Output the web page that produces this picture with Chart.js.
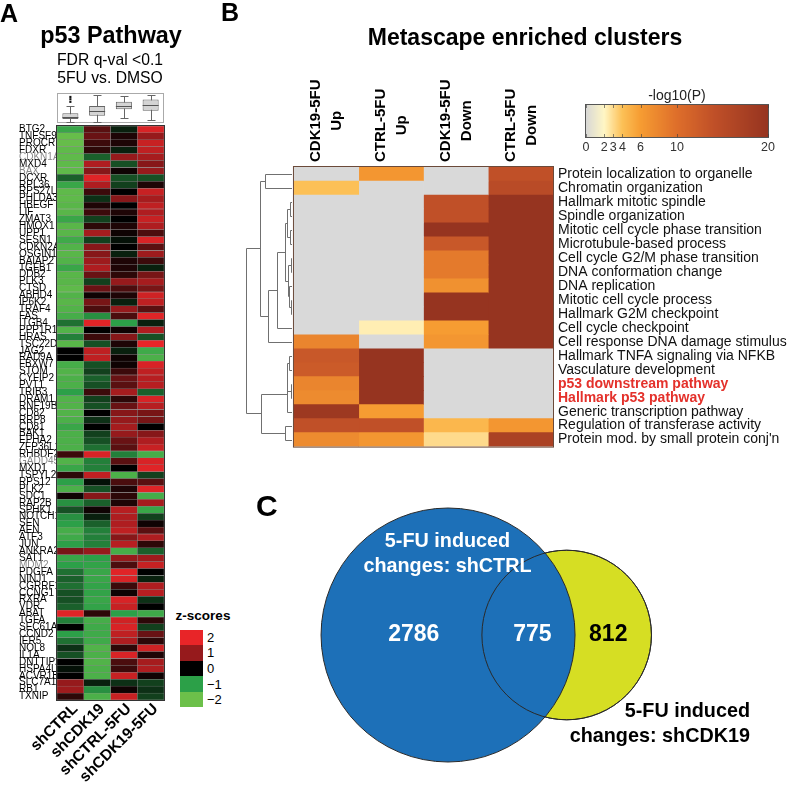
<!DOCTYPE html>
<html>
<head>
<meta charset="utf-8">
<script src="https://cdn.jsdelivr.net/npm/chart.js@4.4.1/dist/chart.umd.min.js"></script>
<style>
body{margin:0;background:#fff;width:800px;height:787px;position:relative;overflow:hidden;font-family:"Liberation Sans",Arial,sans-serif;}
canvas{position:absolute;}
.t{position:absolute;white-space:nowrap;color:#000;line-height:1;}
.sw{position:absolute;left:180px;width:23px;}
.lab{position:absolute;left:207px;font-size:13px;line-height:15px;}
</style>
</head>
<body>
<canvas id="heatA" width="170" height="787" style="left:0;top:0"></canvas>
<canvas id="boxA" width="107" height="30" style="left:57px;top:93px"></canvas>
<canvas id="heatB" width="600" height="460" style="left:200px;top:0"></canvas>
<canvas id="venn" width="550" height="307" style="left:250px;top:480px"></canvas>

<div class="t" style="left:0;top:1px;font-weight:bold;font-size:25px">A</div>
<div class="t" style="left:111px;top:24px;transform:translateX(-50%);font-weight:bold;font-size:23.4px">p53 Pathway</div>
<div class="t" style="left:110px;top:51.5px;transform:translateX(-50%);font-size:15.7px">FDR q-val &lt;0.1</div>
<div class="t" style="left:110px;top:69.6px;transform:translateX(-50%);font-size:15.7px">5FU vs. DMSO</div>

<div class="t" style="left:203px;top:609px;transform:translateX(-50%);font-weight:bold;font-size:13.5px">z-scores</div>
<div id="zlegend"></div>

<div class="t" style="left:221px;top:0;font-weight:bold;font-size:25px">B</div>
<div class="t" style="left:525px;top:25.5px;transform:translateX(-50%);font-weight:bold;font-size:23px">Metascape enriched clusters</div>
<div class="t" style="left:677px;top:88px;transform:translateX(-50%);font-size:14px;color:#222">-log10(P)</div>

<div class="t" style="left:256px;top:491px;font-weight:bold;font-size:30px">C</div>
<div class="t" style="left:447.5px;top:527.7px;transform:translateX(-50%);text-align:center;font-weight:bold;font-size:19.8px;line-height:25px;color:#fff">5-FU induced<br>changes: shCTRL</div>
<div class="t" style="right:50px;top:697.7px;text-align:right;font-weight:bold;font-size:19.8px;line-height:25px">5-FU induced<br>changes: shCDK19</div>

<script>
Chart.defaults.font.family = '"Liberation Sans", Arial, sans-serif';
Chart.defaults.animation = false;
Chart.defaults.plugins.legend.display = false;
Chart.defaults.plugins.tooltip.enabled = false;

// ---- panel A data ----
var colNamesA = ["shCTRL", "shCDK19", "shCTRL-5FU", "shCDK19-5FU"];

var genes = ["BTG2","TNFSF9","PROCR","FDXR","CDKN1A","MXD4","BAX","DCXR","RPL36","RPS27L",
  "PHLDA3","HBEGF","LIF","ZMAT3","HMOX1","UPP1","SESN1","CDKN2A","OSGIN1","BAIAP2",
  "TGFB1","DDB2","PLK3","CTSD","ABHD4","IP6K2","TRAF4","FAS","ITGB4","PPP1R15A",
  "HRAS","TSC22D1","JAG2","RAD9A","FBXW7","STOM","CYFIP2","PVT1","TRIB3","DRAM1",
  "RNF19B","CD82","RRP8","CD81","BAK1","EPHA2","ZFP36L1","RHBDF2","GADD45A","MXD1",
  "TSPYL2","RPS12","PLK2","SDC1","RAP2B","SPHK1","NOTCH1","SEN","AEN","ATF3",
  "JUN","ANKRA2","SAT1","MDM2","PDGFA","NINJ1","CGRRF1","CCNG1","RXRA","VDR",
  "ABAT","TGFA","SEC61A1","CCND2","IER5","NOL8","IL1A","DNTTIP2","HSPA4L","ACVR1B",
  "SLC7A11","RB1","TXNIP"];

var greyGenes = ["CDKN1A", "BAX", "GADD45A", "MDM2"];

var zShCTRL = [-1.2,-1.9,-1.9,-1.8,-1.8,-1.8,-1.8,-0.6,-1.2,-1.8,
  -1.8,-1.7,-1.7,-1.2,-1.7,-1.7,-1.3,-1.6,-1.7,-1.6,
  -1.2,-1.7,-1.7,-1.8,-1.6,-1.7,-1.6,-1.4,-0.7,-1.6,
  -0.8,-1.7,0.0,0.0,-1.4,-1.6,-1.5,-1.5,-1.0,-1.6,
  -1.6,-1.6,-1.5,-1.2,-1.5,-1.5,-1.5,0.4,-1.6,-1.2,
  0.3,-1.0,-1.5,0.1,-0.9,-0.5,-0.9,-1.0,-1.4,-1.3,
  -1.0,0.8,-1.2,-1.0,-0.7,-0.6,-0.7,-0.5,-0.5,-0.6,
  1.9,-0.8,0.0,-1.0,-0.7,-0.3,-0.5,0.0,-0.1,0.0,
  1.0,1.1,0.3];
var zShCDK19 = [0.6,0.7,0.4,0.3,-0.6,1.3,0.9,1.9,1.3,0.4,
  -0.3,0.2,0.4,-0.4,0.3,1.2,-0.4,0.9,0.9,1.1,
  1.3,0.7,-0.4,0.7,0.1,0.8,0.5,-0.9,1.9,0.0,
  0.4,-0.5,1.5,1.5,-0.5,-0.4,-0.6,-0.5,0.4,-0.4,
  -0.5,0.0,-0.3,0.0,-0.4,-0.5,-0.7,1.8,-0.8,-0.8,
  1.5,-0.1,-0.5,0.9,-0.6,0.1,-0.2,-0.6,-0.8,-0.8,
  -0.8,1.0,-1.0,-1.1,-1.2,-1.2,-1.1,-1.1,-1.2,-1.1,
  0.3,-1.4,-1.3,-1.3,-1.3,-1.6,-1.5,-1.6,-1.5,-1.5,
  -0.2,-0.9,-1.5];
var zShCTRL5FU = [-0.2,0.2,0.2,-0.2,1.0,-0.5,0.1,-0.5,-0.4,0.0,
  0.9,0.0,0.2,0.0,0.2,0.1,-0.1,0.0,-0.2,0.2,
  0.2,0.3,1.0,0.5,0.2,-0.2,1.0,0.5,-1.0,0.1,
  0.9,0.2,-0.2,0.1,0.1,0.4,0.7,0.6,1.2,0.3,
  0.7,0.9,1.0,1.2,1.0,0.7,0.6,-0.8,0.6,0.0,
  -1.5,0.5,0.2,0.3,0.2,1.4,1.3,1.3,1.5,0.9,
  1.4,-1.4,1.0,0.5,1.9,1.8,0.4,0.1,1.8,1.6,
  -1.0,1.7,1.8,1.5,1.3,0.3,1.8,0.5,0.4,1.6,
  -0.3,0.1,1.6];
var zShCDK195FU = [1.8,1.0,1.6,1.5,1.2,0.9,1.0,-0.5,0.2,1.6,
  1.2,1.5,1.3,1.6,1.3,0.5,1.8,0.6,1.1,0.4,
  -0.2,0.8,1.2,0.8,1.7,1.5,0.6,1.9,-0.2,1.3,
  -0.5,2.0,-1.3,-1.5,1.8,1.5,1.4,1.4,-0.6,1.8,
  1.4,0.8,0.8,0.0,0.9,1.3,1.6,-1.4,1.8,1.9,
  -0.4,0.6,1.9,-1.4,1.2,-1.2,-0.4,0.1,0.6,1.3,
  0.3,-0.6,1.1,1.6,0.0,-0.2,1.3,1.4,-0.3,0.0,
  -1.3,0.3,-0.4,0.7,0.3,1.7,0.2,1.2,1.3,0.1,
  -0.4,-0.3,-0.4];

// box plot summary per column (z-score units)
var boxQ1 = [-1.51, -1.07, -0.17, -0.36];
var boxQ3 = [-0.71, 0.27, 0.84, 1.16];
var boxMedian = [-1.2, -0.4, 0.27, 0.4];
var whiskerLo = [-1.96, -1.96, -1.38, -1.69];
var whiskerHi = [0.27, 1.73, 1.64, 1.73];
var boxOutliers = [{x: "shCTRL", y: 1.51}, {x: "shCTRL", y: 1.2}, {x: "shCTRL", y: 0.84}];

var zLegendValues = [2, 1, 0, -1, -2];

// ---- panel B data ----
var colNamesB = [["CDK19-5FU", "Up"], ["CTRL-5FU", "Up"], ["CDK19-5FU", "Down"], ["CTRL-5FU", "Down"]];

var clusters = ["Protein localization to organelle", "Chromatin organization", "Hallmark mitotic spindle",
  "Spindle organization", "Mitotic cell cycle phase transition", "Microtubule-based process",
  "Cell cycle G2/M phase transition", "DNA conformation change", "DNA replication",
  "Mitotic cell cycle process", "Hallmark G2M checkpoint", "Cell cycle checkpoint",
  "Cell response DNA damage stimulus", "Hallmark TNFA signaling via NFKB", "Vasculature development",
  "p53 downstream pathway", "Hallmark p53 pathway", "Generic transcription pathway",
  "Regulation of transferase activity", "Protein mod. by small protein conj'n"];

var redClusters = ["p53 downstream pathway", "Hallmark p53 pathway"];

// -log10(P); null = not enriched (grey)
var pCDK19Up = [null,4,null,null,null,null,null,null,null,null,null,null,8,13,12.5,8,7.5,19,14,7.5];
var pCTRLUp = [6.5,null,null,null,null,null,null,null,null,null,null,2.3,null,20,20,20,20,6,14,6.5];
var pCDK19Down = [null,null,14,14,20,13,9,9,7,20,20,6,6.5,null,null,null,null,null,4.5,3];
var pCTRLDown = [14,15,20,20,20,20,20,20,20,20,20,20,20,null,null,null,null,null,6.5,17];

var pTicks = [0, 2, 3, 4, 6, 10, 20];

// dendrogram: [left, right, merge height]
var dendro = [
  [[0, 1, 0.45],
   [[[[[2, 3, 0.06], [4, 5, 0.06], 0.10],
       [[6, 7, 0.05], [8, [9, 10, 0.05], 0.07], 0.09], 0.14],
      11, 0.26],
    12, 0.40],
   0.53],
  [[[[13, 14, 0.08], [15, 16, 0.04], 0.10], 17, 0.11],
   [18, 19, 0.14], 0.51],
  0.74];

// ---- panel C data ----
var onlyCTRL = 2786;
var bothSets = 775;
var onlyCDK19 = 812;

// ---------- colours ----------
var zStops = [[-2, [108, 192, 74]], [-1, [44, 160, 72]], [0, [0, 0, 0]], [1, [150, 26, 28]], [2, [232, 37, 40]]];
var pStops = [[0, [216, 216, 214]], [2, [255, 246, 196]], [3, [254, 218, 140]], [4, [252, 192, 86]],
  [6, [246, 156, 50]], [10, [222, 110, 42]], [14, [192, 80, 40]], [20, [150, 52, 32]]];

function stopColor(stops, v) {
  if (v <= stops[0][0]) return "rgb(" + stops[0][1].join(",") + ")";
  for (var i = 1; i < stops.length; i++) {
    if (v <= stops[i][0]) {
      var t = (v - stops[i - 1][0]) / (stops[i][0] - stops[i - 1][0]);
      var a = stops[i - 1][1], b = stops[i][1];
      return "rgb(" + a.map(function (x, k) { return Math.round(x + (b[k] - x) * t); }).join(",") + ")";
    }
  }
  return "rgb(" + stops[stops.length - 1][1].join(",") + ")";
}
function zColor(v) { return stopColor(zStops, v); }
function pColor(v) { return v == null ? "#d9d9d9" : stopColor(pStops, v); }

// z-score legend
var legendHtml = "";
zLegendValues.forEach(function (v, i) {
  var top = 629.5 + i * 15.6;
  legendHtml += '<div class="sw" style="top:' + top + 'px;height:15.6px;background:' + zColor(v) + '"></div>';
  legendHtml += '<div class="lab" style="top:' + (top + 0.3) + 'px">' + (v < 0 ? "\u2212" + (-v) : v) + '</div>';
});
document.getElementById("zlegend").innerHTML = legendHtml;

// ---------- panel A heatmap ----------
var frameA = {
  id: "frameA",
  afterDatasetsDraw: function (chart) {
    var a = chart.chartArea, ctx = chart.ctx;
    ctx.save();
    ctx.strokeStyle = "#333";
    ctx.lineWidth = 1;
    ctx.strokeRect(a.left - 0.5, a.top - 0.5, a.right - a.left + 1, a.bottom - a.top + 1);
    ctx.restore();
  }
};

var zCols = [zShCTRL, zShCDK19, zShCTRL5FU, zShCDK195FU];

new Chart(document.getElementById("heatA"), {
  type: "bar",
  data: {
    labels: genes,
    datasets: zCols.map(function (col, c) {
      return {
        data: genes.map(function () { return [c, c + 1]; }),
        backgroundColor: col.map(zColor),
        borderColor: "rgba(120,120,120,0.75)",
        borderWidth: 0.5,
        borderSkipped: false,
        barPercentage: 1,
        categoryPercentage: 1,
        grouped: false
      };
    })
  },
  options: {
    responsive: false,
    indexAxis: "y",
    events: [],
    layout: { padding: { left: 19, top: 126, right: 6, bottom: 0 } },
    scales: {
      x: {
        type: "linear", min: 0, max: 4,
        grid: { display: false, drawTicks: false },
        border: { display: false },
        afterBuildTicks: function (s) {
          s.ticks = colNamesA.map(function (n, i) { return { value: i + 0.5 }; });
        },
        afterFit: function (s) { s.height = 87; },
        ticks: {
          autoSkip: false, maxRotation: 45, minRotation: 45, padding: 0, labelOffset: 5,
          color: "#000", font: { size: 15.5, weight: "bold" },
          callback: function (v, i) { return colNamesA[i]; }
        }
      },
      y: {
        grid: { display: false, drawTicks: false },
        border: { display: false },
        afterFit: function (s) { s.width = 38; },
        ticks: {
          autoSkip: false, crossAlign: "far", padding: 0,
          font: { family: '"Liberation Sans Narrow", "Arial Narrow", sans-serif', size: 10 },
          color: function (ctx) { return greyGenes.indexOf(genes[ctx.index]) >= 0 ? "#8a8a8a" : "#000"; }
        }
      }
    }
  },
  plugins: [frameA]
});

// ---------- panel A box plots ----------
var boxParts = {
  id: "boxParts",
  beforeDatasetsDraw: function (chart) {
    var ctx = chart.ctx, x = chart.scales.x, y = chart.scales.y;
    ctx.save();
    ctx.strokeStyle = "#aaa";
    ctx.lineWidth = 1;
    ctx.strokeRect(0.5, 0.5, chart.width - 1, chart.height - 1);
    ctx.strokeStyle = "#666";
    colNamesA.forEach(function (n, i) {
      var cx = Math.round(x.getPixelForValue(i)) + 0.5;
      ctx.beginPath();
      ctx.moveTo(cx, y.getPixelForValue(whiskerLo[i]));
      ctx.lineTo(cx, y.getPixelForValue(whiskerHi[i]));
      ctx.stroke();
      [whiskerLo[i], whiskerHi[i]].forEach(function (w) {
        var py = Math.round(y.getPixelForValue(w)) + 0.5;
        ctx.beginPath();
        ctx.moveTo(cx - 4, py);
        ctx.lineTo(cx + 4, py);
        ctx.stroke();
      });
    });
    ctx.restore();
  },
  afterDatasetsDraw: function (chart) {
    var ctx = chart.ctx, x = chart.scales.x, y = chart.scales.y;
    ctx.save();
    ctx.strokeStyle = "#555";
    ctx.lineWidth = 1;
    colNamesA.forEach(function (n, i) {
      var cx = x.getPixelForValue(i), py = Math.round(y.getPixelForValue(boxMedian[i])) + 0.5;
      ctx.beginPath();
      ctx.moveTo(cx - 8, py);
      ctx.lineTo(cx + 8, py);
      ctx.stroke();
    });
    ctx.restore();
  }
};

new Chart(document.getElementById("boxA"), {
  type: "bar",
  data: {
    labels: colNamesA,
    datasets: [
      { type: "scatter", data: boxOutliers, pointRadius: 1.5, pointStyle: "rect",
        backgroundColor: "#111", borderWidth: 0, clip: false },
      { data: colNamesA.map(function (n, i) { return [boxQ1[i], boxQ3[i]]; }),
        backgroundColor: "#d4d4d4", borderColor: "#666", borderWidth: 1, borderSkipped: false,
        barPercentage: 0.6, categoryPercentage: 1 }
    ]
  },
  options: {
    responsive: false,
    events: [],
    layout: { autoPadding: false },
    scales: {
      x: { display: false },
      y: { display: false, min: -2.05, max: 2.05 }
    }
  },
  plugins: [boxParts]
});

// ---------- panel B heatmap ----------
var dendroPlugin = {
  id: "dendro",
  afterDatasetsDraw: function (chart) {
    var ctx = chart.ctx, x = chart.scales.x, y = chart.scales.y;
    ctx.save();
    ctx.strokeStyle = "#707070";
    ctx.lineWidth = 1;
    function walk(n) {
      if (typeof n === "number") return { px: x.getPixelForValue(-0.03), py: y.getPixelForValue(n) };
      var a = walk(n[0]), b = walk(n[1]);
      var nx = Math.round(x.getPixelForValue(-n[2])) + 0.5;
      ctx.beginPath();
      ctx.moveTo(a.px, Math.round(a.py) + 0.5);
      ctx.lineTo(nx, Math.round(a.py) + 0.5);
      ctx.lineTo(nx, Math.round(b.py) + 0.5);
      ctx.lineTo(b.px, Math.round(b.py) + 0.5);
      ctx.stroke();
      return { px: nx, py: (a.py + b.py) / 2 };
    }
    walk(dendro);

    // heatmap outline
    var x0 = x.getPixelForValue(0), x1 = x.getPixelForValue(4);
    var a2 = chart.chartArea;
    ctx.strokeStyle = "#6b4a3a";
    ctx.strokeRect(x0 - 0.5, a2.top - 0.5, x1 - x0 + 1, a2.bottom - a2.top + 1);
    ctx.restore();
  }
};

var colLabelPlugin = {
  id: "colLabels",
  afterDraw: function (chart) {
    var ctx = chart.ctx, x = chart.scales.x;
    ctx.save();
    ctx.font = "bold 15px 'Liberation Sans', Arial, sans-serif";
    ctx.fillStyle = "#000";
    ctx.textAlign = "center";
    ctx.textBaseline = "middle";
    colNamesB.forEach(function (lines, c) {
      var cx = x.getPixelForValue(c + 0.5);
      var w = ctx.measureText(lines[0]).width;
      var cy = chart.chartArea.top - 5 - w / 2;
      [[lines[0], -10], [lines[1], 11]].forEach(function (l) {
        ctx.save();
        ctx.translate(cx + l[1], cy);
        ctx.rotate(-Math.PI / 2);
        ctx.fillText(l[0], 0, 0);
        ctx.restore();
      });
    });
    ctx.restore();
  }
};

var colorbarPlugin = {
  id: "colorbar",
  afterDraw: function (chart) {
    var ctx = chart.ctx;
    var left = 386, right = 568, top = 105, bottom = 137;
    var maxV = pTicks[pTicks.length - 1];
    ctx.save();
    for (var px = left; px < right; px++) {
      ctx.fillStyle = pColor((px - left + 0.5) / (right - left) * maxV);
      ctx.fillRect(px, top, 1, bottom - top);
    }
    ctx.strokeStyle = "#555";
    ctx.lineWidth = 1;
    ctx.strokeRect(left - 0.5, top - 0.5, right - left + 1, bottom - top + 1);
    ctx.font = "12.5px 'Liberation Sans', Arial, sans-serif";
    ctx.fillStyle = "#333";
    ctx.textAlign = "center";
    ctx.textBaseline = "alphabetic";
    ctx.strokeStyle = "rgba(60,60,60,0.6)";
    pTicks.forEach(function (v) {
      var px = left + v / maxV * (right - left);
      ctx.beginPath();
      ctx.moveTo(Math.round(px) + 0.5, top);
      ctx.lineTo(Math.round(px) + 0.5, top + 3);
      ctx.moveTo(Math.round(px) + 0.5, bottom);
      ctx.lineTo(Math.round(px) + 0.5, bottom - 3);
      ctx.stroke();
      ctx.fillText(String(v), px, 151);
    });
    ctx.restore();
  }
};

var pCols = [pCDK19Up, pCTRLUp, pCDK19Down, pCTRLDown];

new Chart(document.getElementById("heatB"), {
  type: "bar",
  data: {
    labels: clusters,
    datasets: pCols.map(function (col, c) {
      return {
        data: clusters.map(function () { return [c, c + 1]; }),
        backgroundColor: col.map(pColor),
        borderWidth: 0,
        barPercentage: 1,
        categoryPercentage: 1,
        grouped: false
      };
    })
  },
  options: {
    responsive: false,
    indexAxis: "y",
    events: [],
    layout: { padding: { left: 45.4, top: 167, bottom: 12, right: 0 } },
    scales: {
      x: { type: "linear", display: false, min: -0.75, max: 4 },
      y: {
        position: "right",
        grid: { display: false, drawTicks: false },
        border: { display: false },
        afterFit: function (s) { s.width = 247; },
        ticks: {
          autoSkip: false, padding: 5,
          color: function (ctx) { return redClusters.indexOf(clusters[ctx.index]) >= 0 ? "#e4312b" : "#111"; },
          font: function (ctx) {
            return { size: 14, weight: redClusters.indexOf(clusters[ctx.index]) >= 0 ? "bold" : "normal" };
          }
        }
      }
    }
  },
  plugins: [dendroPlugin, colLabelPlugin, colorbarPlugin]
});

// ---------- panel C venn ----------
var areaCTRL = onlyCTRL + bothSets;
var areaCDK19 = onlyCDK19 + bothSets;
var rCTRL = Math.sqrt(areaCTRL / Math.PI);
var rCDK19 = Math.sqrt(areaCDK19 / Math.PI);

function lensArea(d, r1, r2) {
  var a = Math.acos((d * d + r1 * r1 - r2 * r2) / (2 * d * r1));
  var b = Math.acos((d * d + r2 * r2 - r1 * r1) / (2 * d * r2));
  return r1 * r1 * a + r2 * r2 * b -
    0.5 * Math.sqrt((-d + r1 + r2) * (d + r1 - r2) * (d - r1 + r2) * (d + r1 + r2));
}
var lo = rCTRL - rCDK19 + 1e-6, hi = rCTRL + rCDK19 - 1e-6;
for (var it = 0; it < 60; it++) {
  var mid = (lo + hi) / 2;
  if (lensArea(mid, rCTRL, rCDK19) > bothSets) lo = mid; else hi = mid;
}
var centreDist = (lo + hi) / 2;

function radiusPx(chart, r) {
  var s = chart.scales.x;
  return Math.abs(s.getPixelForValue(r) - s.getPixelForValue(0));
}

var vennNumbers = {
  id: "vennNumbers",
  afterDatasetsDraw: function (chart) {
    var ctx = chart.ctx, x = chart.scales.x, y = chart.scales.y;
    var c1 = x.getPixelForValue(0), c2 = x.getPixelForValue(centreDist);
    var R1 = radiusPx(chart, rCTRL), R2 = radiusPx(chart, rCDK19);
    var cy = y.getPixelForValue(0);
    ctx.save();
    ctx.font = "bold 23px 'Liberation Sans', Arial, sans-serif";
    ctx.textAlign = "center";
    ctx.textBaseline = "middle";
    ctx.fillStyle = "#fff";
    ctx.fillText(String(onlyCTRL), c1 - 0.27 * R1, cy);
    ctx.fillText(String(bothSets), ((c2 - R2) + (c1 + R1)) / 2 + 4, cy);
    ctx.fillStyle = "#000";
    ctx.fillText(String(onlyCDK19), ((c1 + R1) + (c2 + R2)) / 2 - 5, cy);
    ctx.restore();
  }
};

new Chart(document.getElementById("venn"), {
  type: "scatter",
  data: {
    datasets: [
      { data: [{ x: centreDist, y: 0 }], order: 0, clip: false,
        pointRadius: function (ctx) { return radiusPx(ctx.chart, rCDK19); },
        backgroundColor: "rgba(0,0,0,0)", borderColor: "#2a2a2a", borderWidth: 1 },
      { data: [{ x: 0, y: 0 }], order: 1, clip: false,
        pointRadius: function (ctx) { return radiusPx(ctx.chart, rCTRL); },
        backgroundColor: "#1d70b8", borderColor: "#2a2a2a", borderWidth: 1 },
      { data: [{ x: centreDist, y: 0 }], order: 2, clip: false,
        pointRadius: function (ctx) { return radiusPx(ctx.chart, rCDK19); },
        backgroundColor: "#d6de23", borderColor: "#2a2a2a", borderWidth: 1 }
    ]
  },
  options: {
    responsive: false,
    events: [],
    layout: { autoPadding: false },
    scales: {
      x: { display: false, min: -52.5, max: 93.3 },
      y: { display: false, min: -40.3, max: 41.1 }
    }
  },
  plugins: [vennNumbers]
});
</script>
</body>
</html>
